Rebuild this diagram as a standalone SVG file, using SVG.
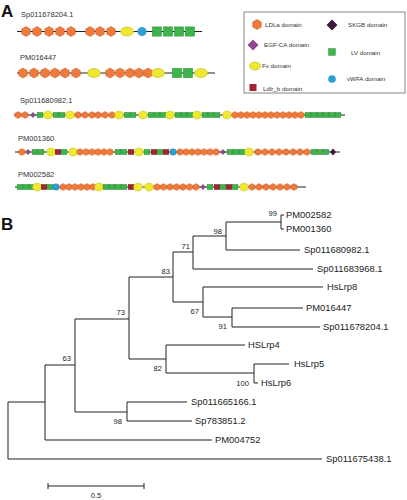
<svg xmlns="http://www.w3.org/2000/svg" xmlns:xlink="http://www.w3.org/1999/xlink" width="407" height="500" viewBox="0 0 407 500">
<style>
.pl{font-family:"Liberation Sans",Arial,sans-serif;font-weight:bold;font-size:17px;fill:#111}
.al{font-family:"Liberation Sans",Arial,sans-serif;font-size:7.5px;fill:#333}
.lg{font-family:"Liberation Sans",Arial,sans-serif;font-size:6.2px;fill:#333}
.tl{font-family:"Liberation Sans",Arial,sans-serif;font-size:9.4px;fill:#222}
.bs{font-family:"Liberation Sans",Arial,sans-serif;font-size:7.6px;fill:#222;text-anchor:end}
.bb{stroke:#222;stroke-width:1;fill:none}
.ax{stroke:#222;stroke-width:1}
.box{fill:#fff;stroke:#666;stroke-width:0.8}
</style>
<defs>
<path id="hL" d="M0,-5 L4.3,-2.5 L4.3,2.5 L0,5 L-4.3,2.5 L-4.3,-2.5Z" fill="#EF7A3C" stroke="#C45A22" stroke-width="0.5"/>
<path id="hS" d="M0,-3.5 L3.1,-1.75 L3.1,1.75 L0,3.5 L-3.1,1.75 L-3.1,-1.75Z" fill="#EF7A3C" stroke="#C45A22" stroke-width="0.4"/>
<ellipse id="yL" rx="6.5" ry="4.5" fill="#EEE82E" stroke="#B8AE10" stroke-width="0.5"/>
<ellipse id="yS" rx="4.5" ry="4" fill="#EEE82E" stroke="#B8AE10" stroke-width="0.4"/>
<circle id="bL" r="4.3" fill="#2C9ED8" stroke="#1F78A8" stroke-width="0.4"/>
<circle id="bS" r="3.3" fill="#2C9ED8" stroke="#1F78A8" stroke-width="0.4"/>
<rect id="gL" x="-4.6" y="-4.6" width="9.2" height="9.2" fill="#3DB54A" stroke="#2A8A34" stroke-width="0.5"/>
<rect id="gS" x="-2.9" y="-2.6" width="5.8" height="5.2" fill="#3DB54A" stroke="#2A7A30" stroke-width="0.4"/>
<rect id="rS" x="-2.8" y="-2.6" width="5.6" height="5.2" fill="#A5232F" stroke="#701820" stroke-width="0.4"/>
<path id="pS" d="M0,-2.8 L2.6,0 L0,2.8 L-2.6,0Z" fill="#8E4A8C" stroke="#5E2E5C" stroke-width="0.3"/>
<path id="kS" d="M0,-3.4 L3,0 L0,3.4 L-3,0Z" fill="#3E1A3C"/>
</defs>

<text class="pl" x="1" y="17">A</text>
<text class="pl" x="1" y="230">B</text>

<g id="row1">
<text class="al" x="21" y="16.5">Sp011678204.1</text>
<line class="ax" x1="17" y1="31.5" x2="202" y2="31.5"/>
<use href="#hL" x="26" y="31.5"/><use href="#hL" x="37" y="31.5"/><use href="#hL" x="49" y="31.5"/><use href="#hL" x="60" y="31.5"/><use href="#hL" x="71" y="31.5"/>
<use href="#hL" x="90" y="31.5"/><use href="#hL" x="100" y="31.5"/><use href="#hL" x="111" y="31.5"/>
<use href="#yL" x="127" y="31.5"/>
<use href="#bL" x="142" y="31.5"/>
<use href="#gL" x="157" y="31.5"/><use href="#gL" x="168" y="31.5"/><use href="#gL" x="179" y="31.5"/><use href="#gL" x="190" y="31.5"/>
</g>

<g id="row2">
<text class="al" x="20" y="60">PM016447</text>
<line class="ax" x1="17" y1="73" x2="215" y2="73"/>
<use href="#hL" x="23" y="73"/><use href="#hL" x="34" y="73"/><use href="#hL" x="45" y="73"/><use href="#hL" x="55" y="73"/><use href="#hL" x="65" y="73"/><use href="#hL" x="76" y="73"/>
<use href="#yL" x="94" y="73"/>
<use href="#hL" x="110" y="73"/><use href="#hL" x="120" y="73"/><use href="#hL" x="130" y="73"/><use href="#hL" x="139" y="73"/><use href="#hL" x="148" y="73"/>
<use href="#yL" x="158" y="73"/>
<use href="#gL" x="177" y="73"/><use href="#gL" x="188" y="73"/>
<use href="#yL" x="201" y="73"/>
</g>

<g id="row3">
<text class="al" x="20" y="103">Sp011680982.1</text>
<line class="ax" x1="14" y1="115" x2="345" y2="115"/>
<use href="#hS" x="18" y="115"/><use href="#hS" x="25" y="115"/>
<use href="#pS" x="33" y="115"/>
<use href="#gS" x="40" y="115"/>
<use href="#yS" x="48" y="115"/>
<use href="#gS" x="56" y="115"/><use href="#gS" x="62" y="115"/>
<use href="#yS" x="70" y="115"/>
<use href="#hS" x="78" y="115"/><use href="#hS" x="85" y="115"/><use href="#hS" x="92" y="115"/><use href="#hS" x="98" y="115"/><use href="#hS" x="105" y="115"/><use href="#hS" x="112" y="115"/>
<use href="#yS" x="119" y="115"/>
<use href="#gS" x="127" y="115"/><use href="#gS" x="133" y="115"/>
<use href="#yS" x="143" y="115"/>
<use href="#gS" x="151" y="115"/><use href="#gS" x="157" y="115"/><use href="#gS" x="163" y="115"/>
<use href="#yS" x="170" y="115"/>
<use href="#gS" x="178" y="115"/><use href="#gS" x="184" y="115"/><use href="#gS" x="190" y="115"/>
<use href="#yS" x="197" y="115"/>
<use href="#gS" x="205" y="115"/><use href="#gS" x="211" y="115"/><use href="#gS" x="217" y="115"/>
<use href="#yS" x="227" y="115"/>
<use href="#hS" x="235" y="115"/><use href="#hS" x="241" y="115"/><use href="#hS" x="247" y="115"/><use href="#hS" x="253" y="115"/><use href="#hS" x="259" y="115"/><use href="#hS" x="265" y="115"/><use href="#hS" x="271" y="115"/><use href="#hS" x="277" y="115"/><use href="#hS" x="283" y="115"/><use href="#hS" x="289" y="115"/><use href="#hS" x="295" y="115"/><use href="#hS" x="301" y="115"/>
<use href="#gS" x="308" y="115"/><use href="#gS" x="314" y="115"/><use href="#gS" x="320" y="115"/><use href="#gS" x="326" y="115"/><use href="#gS" x="332" y="115"/><use href="#gS" x="338" y="115"/>
</g>

<g id="row4">
<text class="al" x="18" y="141">PM001360</text>
<line class="ax" x1="15" y1="152" x2="340" y2="152"/>
<use href="#hS" x="22" y="152"/>
<use href="#pS" x="28" y="152"/>
<use href="#gS" x="35" y="152"/><use href="#gS" x="41" y="152"/>
<use href="#yS" x="51" y="152"/>
<use href="#rS" x="58" y="152"/>
<use href="#gS" x="64" y="152"/>
<use href="#yS" x="73" y="152"/>
<use href="#hS" x="80" y="152"/><use href="#hS" x="86" y="152"/><use href="#hS" x="92" y="152"/><use href="#hS" x="98" y="152"/><use href="#hS" x="104" y="152"/><use href="#hS" x="110" y="152"/>
<use href="#gS" x="118" y="152"/><use href="#gS" x="124" y="152"/>
<use href="#rS" x="131" y="152"/>
<use href="#yS" x="139" y="152"/>
<use href="#gS" x="147" y="152"/>
<use href="#rS" x="154" y="152"/>
<use href="#gS" x="160" y="152"/>
<use href="#rS" x="166" y="152"/>
<use href="#bS" x="173" y="152"/>
<use href="#hS" x="180" y="152"/><use href="#hS" x="186" y="152"/><use href="#hS" x="192" y="152"/><use href="#hS" x="198" y="152"/><use href="#hS" x="204" y="152"/><use href="#hS" x="210" y="152"/><use href="#hS" x="216" y="152"/>
<use href="#pS" x="223" y="152"/>
<use href="#gS" x="230" y="152"/><use href="#gS" x="236" y="152"/><use href="#gS" x="242" y="152"/>
<use href="#yS" x="249" y="152"/>
<use href="#hS" x="258" y="152"/><use href="#hS" x="265" y="152"/><use href="#hS" x="272" y="152"/><use href="#hS" x="279" y="152"/><use href="#hS" x="286" y="152"/><use href="#hS" x="293" y="152"/><use href="#hS" x="300" y="152"/><use href="#hS" x="307" y="152"/>
<use href="#gS" x="314" y="152"/><use href="#gS" x="320" y="152"/><use href="#gS" x="326" y="152"/>
<use href="#kS" x="333" y="152"/>
</g>

<g id="row5">
<text class="al" x="18" y="177">PM002582</text>
<line class="ax" x1="15" y1="187" x2="306" y2="187"/>
<use href="#gS" x="20" y="187"/><use href="#gS" x="26" y="187"/><use href="#gS" x="32" y="187"/>
<use href="#yS" x="37" y="187"/>
<use href="#rS" x="44" y="187"/>
<use href="#gS" x="50" y="187"/>
<use href="#bS" x="56" y="187"/>
<use href="#hS" x="63" y="187"/><use href="#hS" x="69" y="187"/><use href="#hS" x="75" y="187"/><use href="#hS" x="81" y="187"/><use href="#hS" x="87" y="187"/><use href="#hS" x="93" y="187"/>
<use href="#yS" x="99" y="187"/>
<use href="#gS" x="106" y="187"/><use href="#gS" x="112" y="187"/><use href="#gS" x="118" y="187"/><use href="#gS" x="124" y="187"/>
<use href="#rS" x="131" y="187"/>
<use href="#yS" x="138" y="187"/>
<use href="#yS" x="149" y="187"/>
<use href="#hS" x="157" y="187"/><use href="#hS" x="163.5" y="187"/><use href="#hS" x="170" y="187"/><use href="#hS" x="176.5" y="187"/><use href="#hS" x="183" y="187"/><use href="#hS" x="189.5" y="187"/><use href="#hS" x="196" y="187"/>
<use href="#pS" x="203" y="187"/>
<use href="#gS" x="210" y="187"/>
<use href="#rS" x="217" y="187"/>
<use href="#gS" x="223" y="187"/>
<use href="#rS" x="229" y="187"/>
<use href="#gS" x="235" y="187"/>
<use href="#yS" x="244" y="187"/>
<use href="#hS" x="252" y="187"/><use href="#hS" x="259" y="187"/><use href="#hS" x="266" y="187"/><use href="#hS" x="273" y="187"/><use href="#hS" x="280" y="187"/><use href="#hS" x="287" y="187"/><use href="#hS" x="294" y="187"/>
</g>

<g id="legend">
<rect class="box" x="244" y="12" width="161" height="81"/>
<path d="M257,19.5 L261.3,22 L261.3,27 L257,29.5 L252.7,27 L252.7,22Z" fill="#EF7A3C" stroke="#C45A22" stroke-width="0.5"/>
<text class="lg" x="265" y="26.5">LDLa domain</text>
<path d="M253,39.5 L258.5,45 L253,50.5 L247.5,45Z" fill="#8E4A8C"/>
<text class="lg" x="264" y="47">EGF-CA domain</text>
<ellipse cx="255" cy="66" rx="5.5" ry="4" fill="#EEE82E" stroke="#B8AE10" stroke-width="0.5"/>
<text class="lg" x="262" y="68">Fx domain</text>
<rect x="249.5" y="84" width="7" height="7" fill="#A5232F"/>
<text class="lg" x="263" y="90.5">Ldlr_b domain</text>
<path d="M332,19.5 L337.5,25 L332,30.5 L326.5,25Z" fill="#3E1A3C"/>
<text class="lg" x="348" y="27">SKGB domain</text>
<rect x="328.5" y="48.5" width="7" height="7" fill="#3DB54A" stroke="#2A8A34" stroke-width="0.4"/>
<text class="lg" x="351" y="54.5">LV domain</text>
<circle cx="332" cy="79" r="3.8" fill="#2C9ED8"/>
<text class="lg" x="347" y="81">vWFA domain</text>
</g>

<g id="tree" class="bb">
<path d="M281,215 V229 M281,215 H284 M281,229 H284"/>
<path d="M226,222 H281 M226,222 V250 H300"/>
<path d="M193,236 H226 M193,236 V269 H313"/>
<path d="M173,252 H193 M173,252 V302 H203"/>
<path d="M203,287 V317 M203,287 H323 M203,317 H232"/>
<path d="M232,308 V327 M232,308 H303 M232,327 H320"/>
<path d="M129,277 H173 M129,277 V359 H166"/>
<path d="M166,345 V373 M166,345 H245 M166,373 H254"/>
<path d="M254,364 V383 M254,364 H289 M254,383 H258"/>
<path d="M75,319 H129 M75,319 V412 H127"/>
<path d="M127,402 V421 M127,402 H187 M127,421 H192"/>
<path d="M45,365 H75 M45,365 V440 H212"/>
<path d="M8,402 H45 M8,402 V459 H322"/>
</g>

<g id="tree-labels">
<text class="tl" x="286" y="218">PM002582</text>
<text class="tl" x="286" y="232">PM001360</text>
<text class="tl" x="304" y="253">Sp011680982.1</text>
<text class="tl" x="317" y="272">Sp011683968.1</text>
<text class="tl" x="327" y="290">HsLrp8</text>
<text class="tl" x="306" y="311">PM016447</text>
<text class="tl" x="323" y="330">Sp011678204.1</text>
<text class="tl" x="248" y="348">HSLrp4</text>
<text class="tl" x="294" y="367">HsLrp5</text>
<text class="tl" x="261" y="386">HsLrp6</text>
<text class="tl" x="191" y="405">Sp011665166.1</text>
<text class="tl" x="195" y="424">Sp783851.2</text>
<text class="tl" x="215" y="443">PM004752</text>
<text class="tl" x="326" y="462">Sp011675438.1</text>
</g>

<g id="bootstrap">
<text class="bs" x="277" y="216">99</text>
<text class="bs" x="222" y="234">98</text>
<text class="bs" x="190" y="249">71</text>
<text class="bs" x="170" y="274">83</text>
<text class="bs" x="125" y="315">73</text>
<text class="bs" x="199" y="314">67</text>
<text class="bs" x="227" y="329">91</text>
<text class="bs" x="162" y="371">82</text>
<text class="bs" x="249" y="386">100</text>
<text class="bs" x="71" y="361">63</text>
<text class="bs" x="122" y="424">98</text>
</g>

<g id="scale">
<path class="bb" d="M48,486 H144 M48,483 V489 M144,483 V489"/>
<text class="bs" x="96" y="498" style="text-anchor:middle">0.5</text>
</g>
</svg>
